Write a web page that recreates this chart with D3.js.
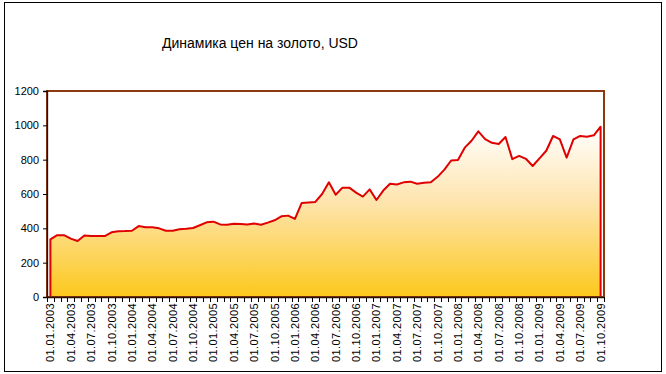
<!DOCTYPE html>
<html>
<head>
<meta charset="utf-8">
<script src="https://cdn.jsdelivr.net/npm/d3@7"></script>
<style>
  body { margin: 0; background: #fff; }
  text { font-family: "Liberation Sans", Arial, sans-serif; }
</style>
</head>
<body>
<div id="chart"></div>
<script>
// monthly gold price, USD, 01.01.2003 .. 01.10.2009
var prices = [
  336, 360, 360, 340, 326, 358, 356, 355, 355, 377, 383, 384,
  386, 413, 406, 406, 400, 386, 386, 395, 398, 402, 418, 435,
  439, 423, 421, 427, 425, 423, 428, 421, 433, 447, 470, 474,
  455, 548, 551, 554, 600, 668, 596, 637, 637, 608, 585, 627,
  565, 620, 660, 655, 668, 672, 660, 665, 668, 700, 742, 795,
  798, 870, 910, 965, 920, 898, 891, 932, 803, 822, 805, 763,
  808, 852, 938, 918, 812, 918, 938, 934, 942, 992
];

var yTicks = [0, 200, 400, 600, 800, 1000, 1200];

var tickLabels = [
  "01.01.2003", "01.04.2003", "01.07.2003", "01.10.2003",
  "01.01.2004", "01.04.2004", "01.07.2004", "01.10.2004",
  "01.01.2005", "01.04.2005", "01.07.2005", "01.10.2005",
  "01.01.2006", "01.04.2006", "01.07.2006", "01.10.2006",
  "01.01.2007", "01.04.2007", "01.07.2007", "01.10.2007",
  "01.01.2008", "01.04.2008", "01.07.2008", "01.10.2008",
  "01.01.2009", "01.04.2009", "01.07.2009", "01.10.2009"
];

var title = "Динамика цен на золото, USD";

var months = d3.range(prices.length);

var width = 666, height = 374;
var plot = {left: 47, right: 604, top: 91, bottom: 297};

var svg = d3.select("#chart").append("svg")
    .attr("width", width)
    .attr("height", height);

// outer frame
svg.append("rect")
   .attr("x", 4.5).attr("y", 2.5)
   .attr("width", 657).attr("height", 369)
   .attr("fill", "#fff")
   .attr("stroke", "#000");

svg.append("text")
   .attr("x", 162)
   .attr("y", 48)
   .style("font-size", "14px")
   .style("fill", "#000")
   .text(title);

var xScale = d3.scaleBand()
    .domain(months)
    .range([plot.left, plot.right]);

var yScale = d3.scaleLinear()
    .domain([0, 1200])
    .range([plot.bottom, plot.top]);

function cx(i) { return xScale(i) + xScale.bandwidth() / 2; }

// gradient for the area
var grad = svg.append("defs").append("linearGradient")
    .attr("id", "goldFill")
    .attr("x1", 0).attr("y1", 0).attr("x2", 0).attr("y2", 1);
grad.append("stop").attr("offset", "0").attr("stop-color", "#ffffff");
grad.append("stop").attr("offset", "0.45").attr("stop-color", "#fee4ac");
grad.append("stop").attr("offset", "1").attr("stop-color", "#fcc81c");

var area = d3.area()
    .x(function(d, i) { return cx(i); })
    .y0(yScale(0))
    .y1(function(d) { return yScale(d); });

svg.append("path")
   .datum(prices)
   .attr("d", area)
   .attr("fill", "url(#goldFill)");

// red outline incl. drops to zero at both ends
var outline = [[cx(0), yScale(0)]]
  .concat(prices.map(function(d, i) { return [cx(i), yScale(d)]; }))
  .concat([[cx(prices.length - 1), yScale(0)]]);

svg.append("path")
   .attr("d", d3.line()(outline))
   .attr("fill", "none")
   .attr("stroke", "#e00000")
   .attr("stroke-width", 2)
   .attr("stroke-linejoin", "round");

// plot area border
svg.append("rect")
   .attr("x", plot.left).attr("y", plot.top)
   .attr("width", plot.right - plot.left)
   .attr("height", plot.bottom - plot.top)
   .attr("fill", "none")
   .attr("stroke", "#8b3a0f")
   .attr("stroke-width", 2);

// y axis
var yAxis = svg.append("g")
   .attr("transform", "translate(" + plot.left + ",0)")
   .call(d3.axisLeft(yScale).tickValues(yTicks).tickFormat(d3.format("d"))
           .tickSize(4).tickPadding(4));
yAxis.select(".domain").attr("stroke", "#2a1000").attr("stroke-width", 1.3);
yAxis.selectAll("text").style("font-size", "11px").style("fill", "#000")
     .attr("font-family", null);

// x axis ticks between categories
var bounds = d3.range(prices.length + 1).map(function(i) {
  return plot.left + i * xScale.step();
});
svg.append("g").selectAll("line")
   .data(bounds)
   .enter().append("line")
   .attr("x1", function(d) { return Math.round(d) + 0.5; })
   .attr("x2", function(d) { return Math.round(d) + 0.5; })
   .attr("y1", plot.bottom)
   .attr("y2", plot.bottom + 5)
   .attr("stroke", "#000");

svg.append("line")
   .attr("x1", plot.left).attr("x2", plot.right)
   .attr("y1", plot.bottom + 0.5).attr("y2", plot.bottom + 0.5)
   .attr("stroke", "#2a1000")
   .attr("stroke-width", 1.3);

// x labels every 3rd month
svg.append("g").selectAll("text")
   .data(tickLabels)
   .enter().append("text")
   .attr("transform", function(d, i) {
     return "translate(" + (cx(i * 3) + 4) + "," + (plot.bottom + 6) + ") rotate(-90)";
   })
   .style("text-anchor", "end")
   .style("font-size", "11px")
   .style("letter-spacing", "0.4px")
   .style("fill", "#000")
   .text(function(d) { return d; });
</script>
</body>
</html>
